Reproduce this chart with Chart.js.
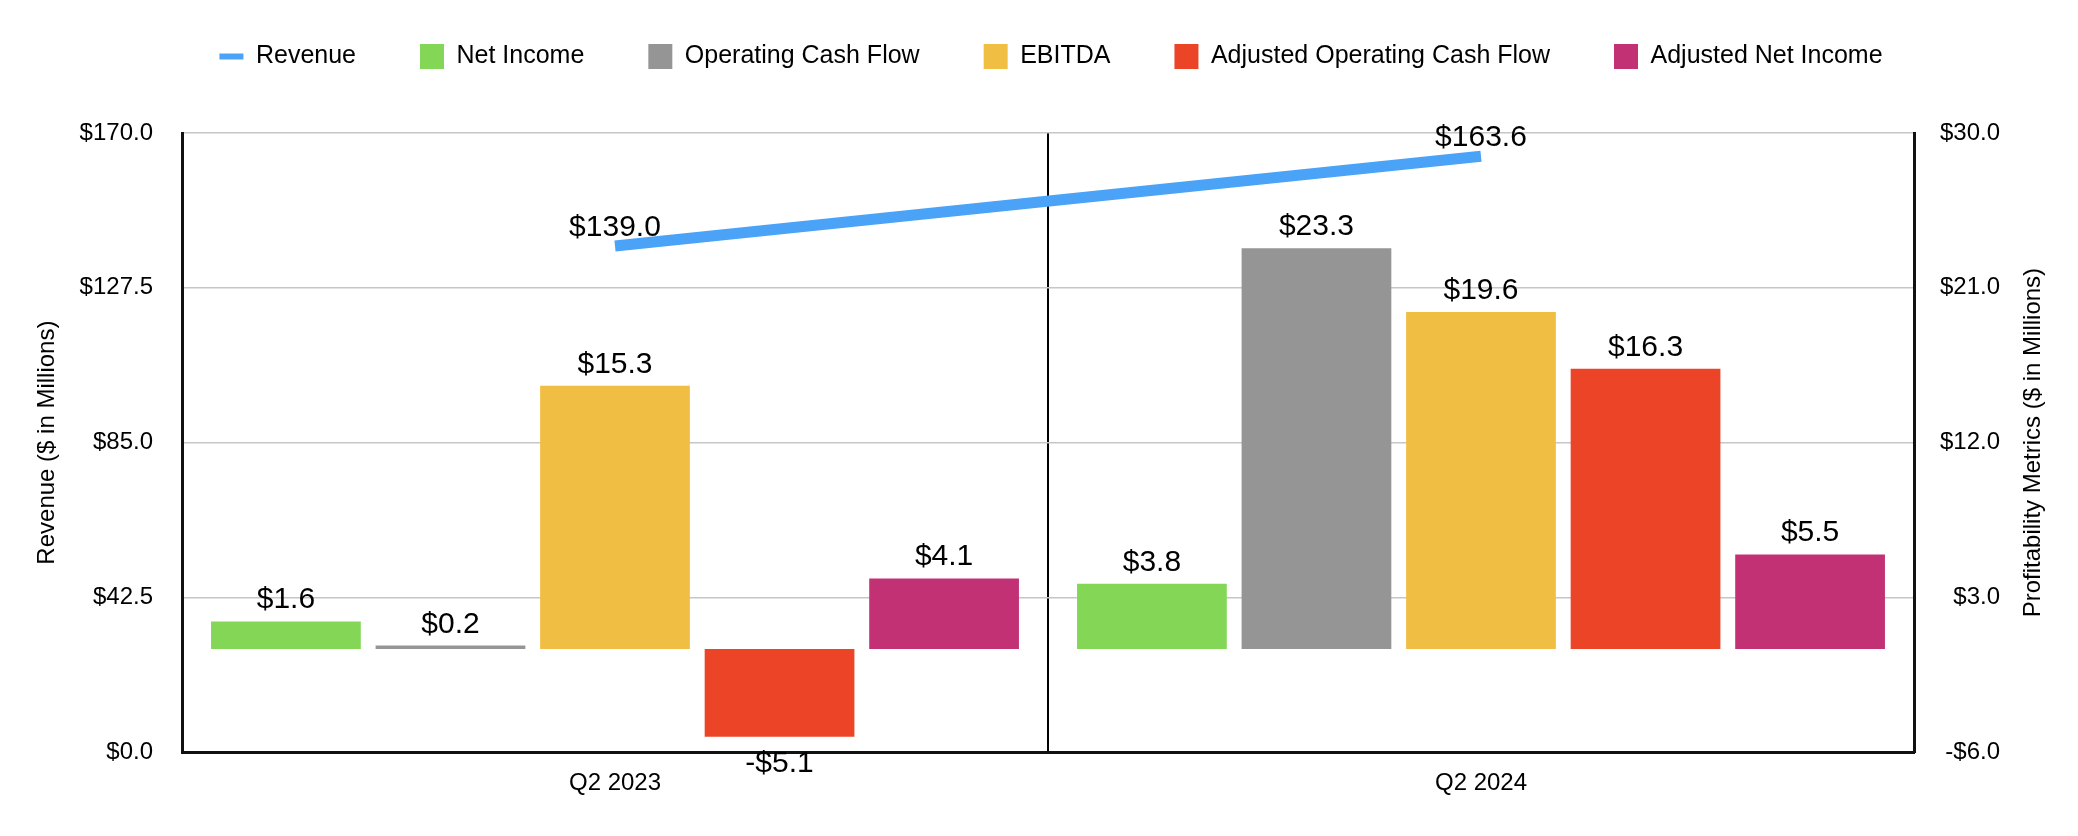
<!DOCTYPE html>
<html>
<head>
<meta charset="utf-8">
<script src="https://cdn.jsdelivr.net/npm/chart.js@4.4.0/dist/chart.umd.min.js"></script>
<style>
  html, body { margin: 0; padding: 0; background: #fff; }
  #wrap { width: 2078px; height: 836px; }
</style>
</head>
<body>
<div id="wrap"><canvas id="chart" width="2078" height="836"></canvas></div>
<script>
var quarters = ["Q2 2023", "Q2 2024"];
var revenue = [139.0, 163.6];
var netIncome = [1.6, 3.8];
var operatingCashFlow = [0.2, 23.3];
var ebitda = [15.3, 19.6];
var adjOperatingCashFlow = [-5.1, 16.3];
var adjNetIncome = [4.1, 5.5];
var revenueTicks = [0, 42.5, 85, 127.5, 170];
var metricTicks = [-6, 3, 12, 21, 30];

var FONT = '"Liberation Sans", Arial, Helvetica, sans-serif';
Chart.defaults.font.family = FONT;
Chart.defaults.color = "#000";

function money(v) {
  return v < 0 ? "-$" + (-v).toFixed(1) : "$" + v.toFixed(1);
}

// push the plot down below the legend, and nudge the legend right a bit
var legendSpace = {
  id: "legendSpace",
  beforeInit: function (chart) {
    var fit = chart.legend.fit;
    chart.legend.fit = function () {
      fit.bind(chart.legend)();
      this.height += 54;
    };
    var draw = chart.legend.draw;
    chart.legend.draw = function () {
      this.left += 12;
      this.right += 12;
      draw.apply(this, arguments);
      this.left -= 12;
      this.right -= 12;
    };
  },
};

// value labels over bars and line points
var valueLabels = {
  id: "valueLabels",
  afterDatasetsDraw: function (chart) {
    var ctx = chart.ctx;
    ctx.save();
    ctx.font = "30px " + FONT;
    ctx.fillStyle = "#000";
    ctx.textAlign = "center";
    chart.data.datasets.forEach(function (ds, i) {
      var meta = chart.getDatasetMeta(i);
      meta.data.forEach(function (el, j) {
        var v = ds.data[j];
        if (ds.type === "line") {
          ctx.textBaseline = "alphabetic";
          ctx.fillText(money(v), el.x, el.y - 10);
        } else if (v >= 0) {
          ctx.textBaseline = "alphabetic";
          ctx.fillText(money(v), el.x, el.y - 13);
        } else {
          ctx.textBaseline = "top";
          ctx.fillText(money(v), el.x, el.y + 12);
        }
      });
    });
    ctx.restore();
  },
};

// both axis titles read bottom-to-top
var axisTitles = {
  id: "axisTitles",
  afterDraw: function (chart) {
    var ctx = chart.ctx;
    var area = chart.chartArea;
    var midY = (area.top + area.bottom) / 2;
    ctx.save();
    ctx.font = "24px " + FONT;
    ctx.fillStyle = "#000";
    ctx.textAlign = "center";
    ctx.textBaseline = "middle";
    [
      ["Revenue ($ in Millions)", area.left - 135],
      ["Profitability Metrics ($ in Millions)", area.right + 119],
    ].forEach(function (t) {
      ctx.save();
      ctx.translate(t[1], midY);
      ctx.rotate(-Math.PI / 2);
      ctx.fillText(t[0], 0, 0);
      ctx.restore();
    });
    ctx.restore();
  },
};

var ctx = document.getElementById("chart").getContext("2d");
var chart = new Chart(ctx, {
  type: "bar",
  data: {
    labels: quarters,
    datasets: [
      {
        type: "line",
        label: "Revenue",
        data: revenue,
        yAxisID: "y",
        borderColor: "#4BA3F7",
        backgroundColor: "#4BA3F7",
        borderWidth: 11,
        borderCapStyle: "butt",
        pointRadius: 0,
        tension: 0,
        order: 0,
      },
      { label: "Net Income", data: netIncome, yAxisID: "y1", backgroundColor: "#83D656", order: 1 },
      { label: "Operating Cash Flow", data: operatingCashFlow, yAxisID: "y1", backgroundColor: "#959595", order: 1 },
      { label: "EBITDA", data: ebitda, yAxisID: "y1", backgroundColor: "#F0BE42", order: 1 },
      { label: "Adjusted Operating Cash Flow", data: adjOperatingCashFlow, yAxisID: "y1", backgroundColor: "#EB4427", order: 1 },
      { label: "Adjusted Net Income", data: adjNetIncome, yAxisID: "y1", backgroundColor: "#C13174", order: 1 },
    ],
  },
  options: {
    responsive: false,
    animation: false,
    categoryPercentage: 0.95,
    barPercentage: 0.91,
    layout: {
      padding: { top: -20, left: 78, right: 78, bottom: 21 },
    },
    plugins: {
      tooltip: { enabled: false },
      legend: {
        position: "top",
        labels: {
          font: { size: 25 },
          color: "#000",
          padding: 64,
          usePointStyle: true,
          pointStyleWidth: 24,
          boxHeight: 25,
          generateLabels: function (chart) {
            return chart.data.datasets.map(function (ds, i) {
              var isLine = ds.type === "line";
              return {
                text: ds.label,
                fillStyle: ds.backgroundColor,
                strokeStyle: ds.backgroundColor,
                lineWidth: isLine ? 6 : 0,
                pointStyle: isLine ? "line" : "rect",
                hidden: false,
                datasetIndex: i,
                fontColor: "#000",
              };
            });
          },
        },
      },
    },
    scales: {
      x: {
        offset: true,
        grid: { offset: true, color: "#000", lineWidth: 2, drawTicks: false },
        border: { color: "#111", width: 3 },
        ticks: { font: { size: 24 }, padding: 17, color: "#000" },
      },
      y: {
        position: "left",
        min: 0,
        max: 170,
        afterBuildTicks: function (scale) {
          scale.ticks = revenueTicks.map(function (v) {
            return { value: v };
          });
        },
        afterFit: function (scale) {
          scale.width = 104;
        },
        ticks: {
          font: { size: 24 },
          color: "#000",
          padding: 29,
          callback: function (v) {
            return money(v);
          },
        },
        grid: { color: "#c6c6c6", lineWidth: 1.5, drawTicks: false },
        border: { color: "#111", width: 3 },
      },
      y1: {
        position: "right",
        min: -6,
        max: 30,
        afterBuildTicks: function (scale) {
          scale.ticks = metricTicks.map(function (v) {
            return { value: v };
          });
        },
        afterFit: function (scale) {
          scale.width = 86;
        },
        ticks: {
          font: { size: 24 },
          color: "#000",
          padding: 28,
          crossAlign: "far",
          callback: function (v) {
            return money(v);
          },
        },
        grid: { drawOnChartArea: false, drawTicks: false },
        border: { color: "#111", width: 3 },
      },
    },
  },
  plugins: [legendSpace, valueLabels, axisTitles],
});
</script>
</body>
</html>
